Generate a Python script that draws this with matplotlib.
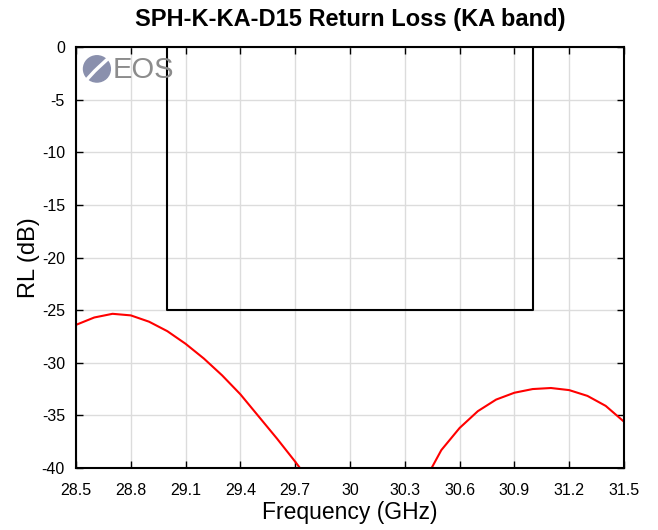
import matplotlib
matplotlib.use("Agg")
import matplotlib.pyplot as plt
from matplotlib.patches import Ellipse
import numpy as np

plt.rcParams['font.family'] = ['Liberation Sans', 'DejaVu Sans']
plt.rcParams['axes.unicode_minus'] = False

freq = [28.5, 28.6, 28.7, 28.8, 28.9, 29.0, 29.1, 29.2, 29.3, 29.4, 29.5, 29.6, 29.7, 29.8,
        29.9, 30.0, 30.1, 30.2, 30.3, 30.4, 30.5, 30.6, 30.7, 30.8, 30.9, 31.0, 31.1, 31.2,
        31.3, 31.4, 31.5]
rl = [-26.4, -25.7, -25.35, -25.5, -26.1, -27.0, -28.2, -29.6, -31.2, -33.0, -35.1, -37.2, -39.4, -41.7,
      -44.5, -48.0, -52.0, -50.0, -46.0, -41.5, -38.3, -36.2, -34.6, -33.5, -32.85, -32.5, -32.4, -32.6,
      -33.15, -34.1, -35.6]
mask_f = [29.0, 29.0, 31.0, 31.0]
mask_rl = [0, -25, -25, 0]
xticks = [28.5, 28.8, 29.1, 29.4, 29.7, 30.0, 30.3, 30.6, 30.9, 31.2, 31.5]
xticklabels = ['28.5', '28.8', '29.1', '29.4', '29.7', '30', '30.3', '30.6', '30.9', '31.2', '31.5']
yticks = [0, -5, -10, -15, -20, -25, -30, -35, -40]

fig = plt.figure(figsize=(6.58, 5.30), dpi=100)
ax = fig.add_axes([0.1155, 0.117, 0.8328, 0.7943])
ax.plot(freq, rl, color='#ff0000', lw=1.5)
ax.plot(mask_f, mask_rl, color='black', lw=1.5)
ax.set_xlim(28.5, 31.5)
ax.set_ylim(-40, 0)
ax.set_xticks(xticks)
ax.set_xticklabels(xticklabels)
ax.set_yticks(yticks)
ax.grid(True, color='#dcdcdc', lw=1)
ax.set_axisbelow(True)
ax.tick_params(direction='in', top=True, right=True, length=5, width=1, labelsize=11.5,
               colors='black')
ax.tick_params(axis='x', pad=11)
ax.tick_params(axis='y', pad=8)
for s in ax.spines.values():
    s.set_linewidth(1.5)
ax.set_title('SPH-K-KA-D15 Return Loss (KA band)', fontsize=17, fontweight='bold', pad=15)
ax.set_xlabel('Frequency (GHz)', fontsize=16.5, labelpad=2)
ax.set_ylabel('RL (dB)', fontsize=17, labelpad=1)

# logo
logo = fig.add_axes([0.115, 0.83, 0.17, 0.08])
logo.set_xlim(0, 1)
logo.set_ylim(0, 1)
logo.axis('off')
logo.add_patch(Ellipse((0.19, 0.5), 0.24, 0.62, color='#8a90ad'))
logo.plot([0.10, 0.17, 0.21, 0.28], [0.25, 0.45, 0.55, 0.72], color='white', lw=2.5)
logo.text(0.33, 0.48, 'EOS', fontsize=21, color='#8c8c8c', va='center', ha='left')

fig.savefig('out.png', dpi=100)
